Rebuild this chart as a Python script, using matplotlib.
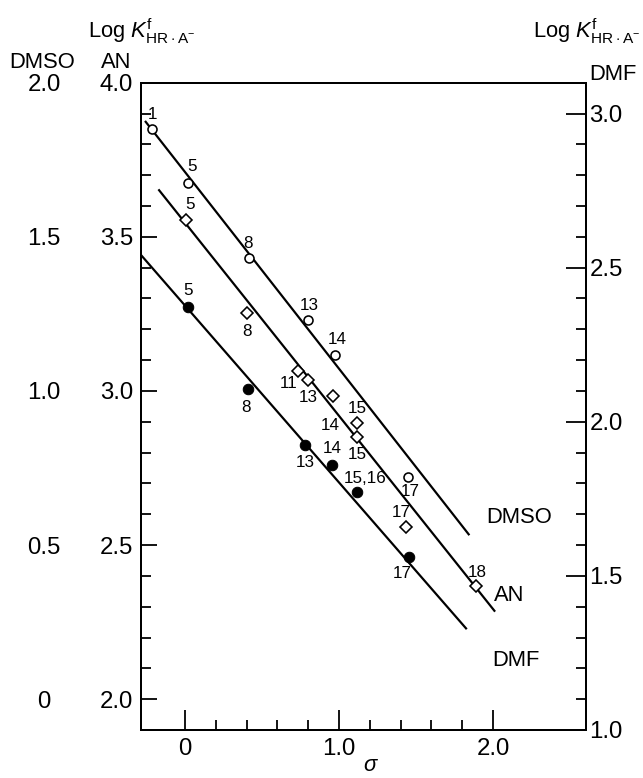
import matplotlib
matplotlib.use('Agg')
import matplotlib.pyplot as plt
from matplotlib.ticker import FixedLocator

plt.rcParams['font.family'] = ['Liberation Sans', 'DejaVu Sans']
plt.rcParams['mathtext.fontset'] = 'custom'
plt.rcParams['mathtext.rm'] = 'Liberation Sans'
plt.rcParams['mathtext.it'] = 'Liberation Sans:italic'
plt.rcParams['mathtext.bf'] = 'Liberation Sans:bold'

# ---------------- data ----------------
dmso_sigma = [-0.216, 0.017, 0.418, 0.800, 0.974, 1.450]
dmso_logk = [1.849, 1.673, 1.430, 1.230, 1.116, 0.722]
dmso_labels = ['1', '5', '8', '13', '14', '17']

an_sigma = [0.006, 0.400, 0.736, 0.799, 0.963, 1.119, 1.119, 1.435, 1.890]
an_logk = [3.554, 3.253, 3.065, 3.035, 2.983, 2.897, 2.851, 2.559, 2.367]
an_labels = ['5', '8', '11', '13', '14', '15', '15', '17', '18']

dmf_sigma = [0.017, 0.410, 0.779, 0.957, 1.119, 1.455]
dmf_logk = [2.371, 2.106, 1.924, 1.860, 1.773, 1.562]
dmf_labels = ['5', '8', '13', '14', '15,16', '17']

# fitted correlation lines (end points)
dmso_fit_sigma = [-0.260, 1.846]
dmso_fit_logk = [1.876, 0.532]
an_fit_sigma = [-0.173, 2.013]
an_fit_logk = [3.654, 2.284]
dmf_fit_sigma = [-0.286, 1.829]
dmf_fit_logk = [2.541, 1.327]

x_major = [0, 1.0, 2.0]
x_major_labels = ['0', '1.0', '2.0']
x_minor = [0.2, 0.4, 0.6, 0.8, 1.2, 1.4, 1.6, 1.8]
an_ticks = [2.0, 2.5, 3.0, 3.5, 4.0]
an_tick_labels = ['2.0', '2.5', '3.0', '3.5', '4.0']
dmso_ticks = [0, 0.5, 1.0, 1.5, 2.0]
dmso_tick_labels = ['0', '0.5', '1.0', '1.5', '2.0']
dmf_ticks = [1.0, 1.5, 2.0, 2.5, 3.0]
dmf_tick_labels = ['1.0', '1.5', '2.0', '2.5', '3.0']

# label offsets (points) relative to markers
dmso_off = [(1, 15), (4, 17), (-1, 15), (1, 15), (2, 16), (2, -15)]
an_off = [(4, 16), (0, -19), (-10, -13), (0, -17), (-3, -29), (0, 14), (0, -18), (-5, 14), (1, 14)]
dmf_off = [(0, 17), (-2, -18), (0, -17), (0, 16), (8, 13), (-7, -17)]

# ---------------- figure ----------------
W, H, DPI = 643, 778, 72
fig = plt.figure(figsize=(W / DPI, H / DPI), dpi=DPI)
L, R, T, B = 141, 585.5, 82.7, 730
ax = fig.add_axes([L / W, 1 - B / H, (R - L) / W, (B - T) / H])
ax_dmso = ax.twinx()
ax_dmf = ax.twinx()

xlim = (-0.286, 2.60)
an_ylim = (1.90, 4.0)
ax.set_xlim(*xlim)
ax.set_ylim(*an_ylim)
ax_dmso.set_ylim(an_ylim[0] - 2.0, an_ylim[1] - 2.0)
ax_dmf.set_ylim(1.0, 3.1)

lw = 2.0
for a in (ax, ax_dmf):
    for s in a.spines.values():
        s.set_linewidth(lw)
for s in ax_dmso.spines.values():
    s.set_visible(False)

tfs = 24
# x axis
ax.set_xticks(x_major)
ax.set_xticklabels(x_major_labels)
ax.xaxis.set_minor_locator(FixedLocator(x_minor))
ax.tick_params(axis='x', which='major', direction='in', length=20, width=1.8,
               pad=8, labelsize=tfs, top=False)
ax.tick_params(axis='x', which='minor', direction='in', length=10, width=1.8, top=False)

# left AN axis
ax.set_yticks(an_ticks)
ax.set_yticklabels(an_tick_labels)
ax.yaxis.set_minor_locator(FixedLocator([v / 10 for v in range(20, 40) if v % 5]))
ax.tick_params(axis='y', which='major', direction='in', length=16, width=1.8,
               pad=8, labelsize=tfs, right=False)
ax.tick_params(axis='y', which='minor', direction='in', length=10, width=1.8, right=False)

# left DMSO column (offset scale)
ax_dmso.yaxis.tick_left()
ax_dmso.set_yticks(dmso_ticks)
ax_dmso.set_yticklabels(dmso_tick_labels)
ax_dmso.tick_params(axis='y', which='both', length=0, pad=97, labelsize=tfs)
for tl in ax_dmso.get_yticklabels():
    tl.set_horizontalalignment('center')

# right DMF axis
ax_dmf.set_yticks(dmf_ticks)
ax_dmf.set_yticklabels(dmf_tick_labels)
ax_dmf.yaxis.set_minor_locator(FixedLocator([v / 10 for v in range(10, 31) if v % 5]))
ax_dmf.tick_params(axis='y', which='major', direction='in', length=20, width=1.8,
                   pad=4, labelsize=tfs)
ax_dmf.tick_params(axis='y', which='minor', direction='in', length=10, width=1.8)

# fitted lines
flw = 2.2
ax_dmso.plot(dmso_fit_sigma, dmso_fit_logk, color='black', lw=flw, solid_capstyle='butt')
ax.plot(an_fit_sigma, an_fit_logk, color='black', lw=flw, solid_capstyle='butt')
ax_dmf.plot(dmf_fit_sigma, dmf_fit_logk, color='black', lw=flw, solid_capstyle='butt')

# points
ax_dmso.plot(dmso_sigma, dmso_logk, 'o', ms=9, mfc='white', mec='black', mew=1.6, zorder=5)
ax.plot(an_sigma, an_logk, 'D', ms=9, mfc='white', mec='black', mew=1.6, zorder=5)
ax_dmf.plot(dmf_sigma, dmf_logk, 'o', ms=10.5, mfc='black', mec='black', zorder=5)

lab_fs = 17
for a, xs, ys, labs, offs in ((ax_dmso, dmso_sigma, dmso_logk, dmso_labels, dmso_off),
                              (ax, an_sigma, an_logk, an_labels, an_off),
                              (ax_dmf, dmf_sigma, dmf_logk, dmf_labels, dmf_off)):
    for x, y, t, o in zip(xs, ys, labs, offs):
        a.annotate(t, (x, y), xytext=o, textcoords='offset points',
                   ha='center', va='center', fontsize=lab_fs)

# series names inside plot
ax.text(2.169, 2.588, 'DMSO', ha='center', va='center', fontsize=22)
ax.text(2.104, 2.335, 'AN', ha='center', va='center', fontsize=22)
ax.text(2.149, 2.127, 'DMF', ha='center', va='center', fontsize=22)

# headers
ylab = r'Log $K^{\mathrm{f}}_{\mathrm{HR\cdot A^{-}}}$'
fig.text(88 / W, 1 - 38 / H, ylab, ha='left', va='baseline', fontsize=22)
fig.text(533 / W, 1 - 38 / H, ylab, ha='left', va='baseline', fontsize=22)
fig.text(42 / W, 1 - 63 / H, 'DMSO', ha='center', va='center', fontsize=22)
fig.text(116 / W, 1 - 63 / H, 'AN', ha='center', va='center', fontsize=22)
fig.text(589 / W, 1 - 75 / H, 'DMF', ha='left', va='center', fontsize=22)
fig.text(371 / W, 1 - 776 / H, r'$\sigma$', ha='center', va='bottom', fontsize=22)

fig.savefig('out.png', dpi=DPI)
